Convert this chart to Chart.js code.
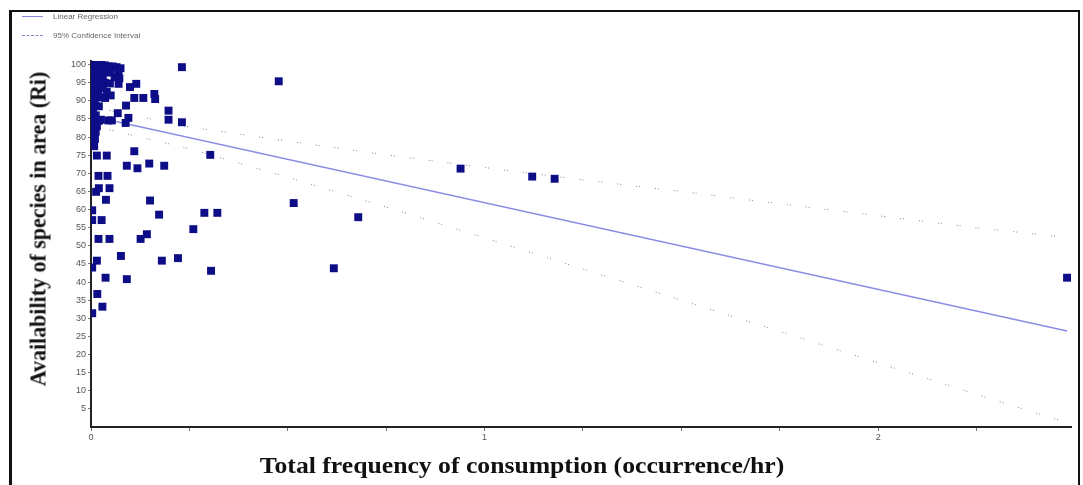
<!DOCTYPE html>
<html>
<head>
<meta charset="utf-8">
<script src="https://cdn.jsdelivr.net/npm/chart.js@4/dist/chart.umd.min.js"></script>
<style>
  body { margin: 0; background: #fff; }
  #wrap { position: relative; width: 1083px; height: 485px; overflow: hidden; }
  #frame { position: absolute; left: 9px; top: 10px; width: 1066px; height: 480px;
           border-top: 2px solid #111; border-left: 3px solid #111; border-right: 2px solid #111; }
  canvas { position: absolute; left: 0; top: 0; }
  .legend { position: absolute; left: 22px; font: 8px "Liberation Sans", Arial, sans-serif; color: #666; }
  .legend span { display: inline-block; width: 21px; vertical-align: middle; margin-right: 10px; }
  .title { position: absolute; font: bold 24px "Liberation Serif", "Times New Roman", serif; color: #111;
           white-space: nowrap; }
  #ytitle { left: 38px; top: 229px; transform: translate(-50%, -50%) rotate(-90deg) scaleX(0.915); }
  #xtitle { left: 522px; top: 465px; transform: translate(-50%, -50%) scaleX(1.07); }
</style>
</head>
<body>
<div id="wrap">
  <div id="frame"></div>
  <canvas id="chart" width="1083" height="485"></canvas>
  <div class="legend" style="top:12px"><span style="border-top:1.5px solid #8888e0"></span>Linear Regression</div>
  <div class="legend" style="top:31px"><span style="border-top:1px dashed #8888cc"></span>95% Confidence Interval</div>
  <div class="title" id="ytitle">Availability of species in area (Ri)</div>
  <div class="title" id="xtitle">Total frequency of consumption (occurrence/hr)</div>
</div>
<script>
// observed species: [frequency of consumption, availability Ri]
const observations = [
  [0.002,100],[0.01,100],[0.018,100],[0.026,100],[0.035,99.8],[0.045,99.5],[0.055,99.5],[0.065,99.3],[0.075,99],
  [0.005,98.5],[0.015,98.5],[0.025,98.2],[0.04,98],[0.05,97.8],[0.07,98],
  [0.008,97],[0.02,96.5],[0.03,96.8],[0.06,96.5],[0.072,96.2],
  [0.002,95.5],[0.012,95],[0.022,95.5],[0.035,95],[0.048,94.8],[0.07,94.7],
  [0.005,93.5],[0.018,93],[0.03,93.5],[0.04,92.5],
  [0.002,92],[0.015,91],[0.028,91],[0.036,90.8],[0.05,91.5],
  [0.003,90],[0.01,89],[0.02,88.5],
  [0.005,87],[0.012,86],[0.002,85.5],[0.01,85],[0.02,84.5],[0.025,84.8],[0.005,84],[0.015,83],
  [0.002,82],[0.012,81.5],[0.005,80.5],[0.01,79.5],[0.002,78.5],[0.008,77.5],
  [0.099,93.8],[0.115,94.7],[0.11,90.8],[0.133,90.8],[0.161,91.9],[0.163,90.5],[0.089,88.7],[0.068,86.6],
  [0.197,87.3],[0.197,84.8],[0.231,84.1],[0.095,85.3],[0.088,83.9],[0.044,84.6],[0.053,84.6],
  [0.231,99.3],[0.477,95.4],
  [0.11,76.1],[0.015,74.9],[0.04,74.9],[0.091,72.1],[0.118,71.4],[0.148,72.7],[0.186,72.1],[0.303,75.1],
  [0.019,69.3],[0.042,69.3],[0.02,65.9],[0.013,64.9],[0.047,65.9],[0.038,62.7],[0.15,62.5],[0.173,58.6],
  [0.288,59.1],[0.321,59.1],[0.003,59.8],[0.003,57.1],[0.027,57.1],[0.26,54.6],[0.019,51.9],[0.047,51.9],
  [0.126,51.9],[0.142,53.2],[0.076,47.2],[0.015,45.9],[0.003,44.0],[0.18,45.9],[0.221,46.6],[0.305,43.1],
  [0.037,41.2],[0.091,40.8],[0.016,36.7],[0.029,33.2],[0.003,31.4],
  [0.515,61.8],[0.679,57.9],[0.617,43.8],[0.939,71.3],[1.121,69.1],[1.178,68.5],[2.48,41.2]
];

// fitted regression line (end points) and 95% confidence band
const regX = [0, 2.48];
const regY = [85.8, 26.5];
const ciX = [0, 0.25, 0.5, 0.75, 1, 1.25, 1.5, 1.75, 2, 2.25, 2.48];
const ciUpper = [88.4, 82.8, 78.9, 75.1, 71.6, 68.2, 65.0, 61.6, 58.3, 55.0, 52.3];
const ciLower = [83.2, 76.8, 68.9, 60.7, 52.2, 43.6, 35.0, 26.4, 17.7, 9.0, 1.2];

const xTicks = [0, 0.25, 0.5, 0.75, 1, 1.25, 1.5, 1.75, 2, 2.25];
const xLabels = { 0: '0', 1: '1', 2: '2' };
const yTicks = [5, 10, 15, 20, 25, 30, 35, 40, 45, 50, 55, 60, 65, 70, 75, 80, 85, 90, 95, 100];

const toXY = (xs, ys) => xs.map((x, i) => ({ x, y: ys[i] }));
const tickFont = { family: '"Liberation Sans", Arial, sans-serif', size: 9 };

new Chart(document.getElementById('chart'), {
  type: 'scatter',
  data: {
    datasets: [
      {
        label: 'Species',
        data: observations.map(([x, y]) => ({ x, y })),
        pointStyle: 'rect',
        pointRadius: 5.6,
        pointHoverRadius: 5.6,
        backgroundColor: '#0d0d88',
        borderWidth: 0
      },
      {
        label: 'Linear Regression',
        data: toXY(regX, regY),
        showLine: true,
        pointRadius: 0,
        borderColor: '#8c8ce6',
        borderWidth: 1.5
      },
      {
        label: '95% Confidence Interval',
        data: toXY(ciX, ciUpper),
        showLine: true,
        pointRadius: 0,
        borderColor: '#7c7ca8',
        borderWidth: 1,
        borderDash: [1, 2, 1, 15]
      },
      {
        label: '95% Confidence Interval (lower)',
        data: toXY(ciX, ciLower),
        showLine: true,
        pointRadius: 0,
        borderColor: '#7c7ca8',
        borderWidth: 1,
        borderDash: [1, 2, 1, 15]
      }
    ]
  },
  options: {
    responsive: false,
    animation: false,
    layout: { padding: { left: 0, top: 61, right: 12, bottom: 0 } },
    plugins: { legend: { display: false }, tooltip: { enabled: false } },
    elements: { line: { tension: 0 } },
    scales: {
      x: {
        min: 0,
        max: 2.49,
        afterFit: s => { s.height = 58; },
        afterBuildTicks: s => { s.ticks = xTicks.map(v => ({ value: v })); },
        border: { color: '#222', width: 2 },
        grid: { drawOnChartArea: false, tickLength: 4, color: '#777' },
        ticks: { font: tickFont, color: '#555', padding: 1, maxRotation: 0, autoSkip: false,
                 callback: v => xLabels[v] ?? '' }
      },
      y: {
        min: 0,
        max: 101,
        afterFit: s => { s.width = 91; },
        afterBuildTicks: s => { s.ticks = yTicks.map(v => ({ value: v })); },
        border: { color: '#222', width: 2 },
        grid: { drawOnChartArea: false, tickLength: 3, color: '#777' },
        ticks: { font: tickFont, color: '#555', padding: 2, autoSkip: false }
      }
    }
  }
});
</script>
</body>
</html>
